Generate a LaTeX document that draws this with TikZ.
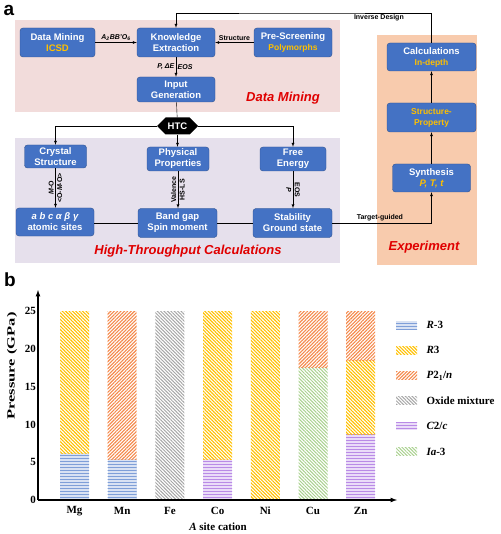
\documentclass[tikz,border=0pt]{standalone}
\usepackage{fontspec}
\setmainfont{Liberation Sans}
\newfontfamily\chartfont{Liberation Serif}
\usetikzlibrary{arrows,shapes.symbols,patterns,patterns.meta}

\definecolor{boxblue}{HTML}{4472C4}
\definecolor{boxline}{HTML}{2F528F}
\definecolor{gold}{HTML}{FFC000}
\definecolor{areared}{HTML}{E00000}
\definecolor{dmpink}{HTML}{F2DCDB}
\definecolor{htclav}{HTML}{E6E0EC}
\definecolor{exppeach}{HTML}{F8CBAD}
\definecolor{cRm}{HTML}{7F9FD8}
\definecolor{cR}{HTML}{FFC000}
\definecolor{cP}{HTML}{F4894B}
\definecolor{cOx}{HTML}{A6A6A6}
\definecolor{cC}{HTML}{B98BE6}
\definecolor{cIa}{HTML}{A9D18E}

\newcommand{\sublabel}[1]{{\color{gold}#1}}

\begin{document}
\begin{tikzpicture}[
x=1pt, y=-1pt,
box/.style={
  draw=boxline,
  fill=boxblue,
  rounded corners=3pt,
  text=white,
  align=center,
  inner sep=1pt,
  font=\bfseries\fontsize{9.5}{11}\selectfont
  },
tag/.style={
  font=\bfseries\fontsize{7}{8}\selectfont,
  inner sep=1.5pt
  },
area/.style={
  text=areared,
  font=\bfseries\itshape\fontsize{13}{15}\selectfont
  },
panel/.style={
  font=\bfseries\fontsize{19}{21}\selectfont,
  inner sep=0pt
  },
chart/.style={
  font=\chartfont\bfseries\fontsize{11}{13}\selectfont
  },
phRm/.style={preaction={fill=cRm!30}, pattern=horizontal lines, pattern color=cRm},
phR/.style={pattern={Lines[angle=-45,distance=2.4pt,line width=1.1pt]}, pattern color=cR},
phP/.style={pattern={Lines[angle=45,distance=2.4pt,line width=1.1pt]}, pattern color=cP},
phOx/.style={pattern={Lines[angle=-45,distance=2.4pt,line width=1pt]}, pattern color=cOx},
phC/.style={preaction={fill=cC!30}, pattern=horizontal lines, pattern color=cC},
phIa/.style={pattern={Lines[angle=-45,distance=2.4pt,line width=1pt]}, pattern color=cIa},
>=latex
]
\useasboundingbox (0,0) rectangle (500,534);

% backgrounds
\fill[dmpink] (15,20) rectangle (340,112);
\fill[htclav] (15,138) rectangle (340,263);
\fill[exppeach] (377,35) rectangle (477,265);

\node[panel] (pa) at (9,10) {a};
\node[panel] (pb) at (10,280) {b};

\node[area] (dmarea) at (283,98) {Data Mining};
\node[area] (htcarea) at (188,251) {High-Throughput Calculations};
\node[area] (exparea) at (424,247) {Experiment};

% boxes
\node[box, minimum width=75, minimum height=29] (dm) at (57.5,42.5) {Data Mining\\\sublabel{ICSD}};
\node[box, minimum width=78, minimum height=29] (ke) at (176,42.5) {Knowledge\\Extraction};
\node[box, minimum width=78, minimum height=29] (ps) at (293,42.5) {Pre-Screening\\\sublabel{\fontsize{8.5}{10}\selectfont Polymorphs}};
\node[box, minimum width=78, minimum height=25] (ig) at (176,89.5) {Input\\Generation};
\node[signal, signal to=west and east, fill=black, text=white, inner sep=0pt,
  minimum width=41, minimum height=17, font=\bfseries\fontsize{9.5}{11}\selectfont] (htc) at (177.5,126) {HTC};
\node[box, minimum width=62, minimum height=23] (cs) at (55.5,156.5) {Crystal\\Structure};
\node[box, minimum width=62, minimum height=24] (pp) at (178,159) {Physical\\Properties};
\node[box, minimum width=66, minimum height=24] (fe) at (293,159) {Free\\Energy};
\node[box, minimum width=78, minimum height=28] (abc) at (55,222) {\itshape a b c α β γ\\atomic sites};
\node[box, minimum width=79, minimum height=29] (bg) at (177.5,223) {Band gap\\Spin moment};
\node[box, minimum width=79, minimum height=29] (st) at (292.5,223) {Stability\\Ground state};
\node[box, minimum width=89, minimum height=28] (calc) at (431.5,57) {Calculations\\\sublabel{\fontsize{8.5}{10}\selectfont In-depth}};
\node[box, minimum width=89, minimum height=29] (sp) at (431.5,117.5) {\sublabel{\fontsize{8.5}{10}\selectfont Structure-}\\\sublabel{\fontsize{8.5}{10}\selectfont Property}};
\node[box, minimum width=78, minimum height=28] (syn) at (431.5,178) {Synthesis\\\sublabel{\itshape P, T, t}};

% data mining lines
\draw[->] (dm) -- node[tag, above] {\itshape A\textsubscript{2}BB'O\textsubscript{6}} (ke);
\draw[->] (ps) -- node[tag, above] {Structure} (ke);
\draw[->] (ke) -- node[tag, left] {\itshape P, ΔE} node[tag, right] {\itshape EOS} (ig);
\draw (ig) -- (htc);

% HTC lines
\draw[->] (htc.west) -| (cs);
\draw[->] (htc.south) -- (htc.south |- pp.north);
\draw[->] (htc.east) -| (fe);
\draw[->] (cs) -- node[tag, rotate=90, above] {\itshape M\upshape-O} node[tag, rotate=90, below] {<O-\textit{M}-O>} (cs |- abc.north);
\draw[->] (pp) -- node[tag, rotate=90, above] {Valence} node[tag, rotate=90, below] {HS-LS} (pp |- bg.north);
\draw[->] (fe) -- node[tag, rotate=-90, below] {\itshape P} node[tag, rotate=-90, above] {EOS} (fe |- st.north);
\draw (abc.east |- bg) -- (bg);
\draw (bg) -- (st);

% experiment lines
\coordinate (loop) at (300,13);
\draw[->] (st) -| node[tag, above, pos=0.24] {Target-guided} (syn);
\draw[->] (syn) -- (sp);
\draw[->] (sp) -- (calc);
\draw[->] (calc.north) |- node[tag, below, pos=0.7] {Inverse Design} (loop) -| (ke.north);

% bar chart
\foreach \i/\lo/\hi/\ph in {0/0/6.2/phRm, 0/6.2/25/phR, 1/0/5.4/phRm, 1/5.4/25/phP,
  2/0/25/phOx, 3/0/5.4/phC, 3/5.4/25/phR, 4/0/25/phR, 5/0/17.5/phIa, 5/17.5/25/phP,
  6/0/8.7/phC, 6/8.7/18.5/phR, 6/18.5/25/phP}
  \path[\ph] ({74.5+47.7*\i-14.5},{500-7.56*\lo}) rectangle ({74.5+47.7*\i+14.5},{500-7.56*\hi});

\draw[->, line width=1.2pt] (38,500) -- (38,290);
\draw[->, line width=1.2pt] (38,500) -- (397,500);

\foreach \v in {0,5,...,25}
  \node[chart, anchor=east, inner sep=0pt] (tick\v) at (36,{500-7.56*\v}) {\v};

\foreach \name [count=\i from 0] in {Mg,Mn,Fe,Co,Ni,Cu,Zn}
  \node[chart] (cat\i) at ({74.5+47.7*\i},511) {\name};

\node[chart, rotate=90] (ylab) at (12,366) {\scalebox{1.5}[1]{Pressure (GPa)}};
\node[chart] (xlab) at (218,527) {\textit{A} site cation};

% legend
\foreach \ph/\txt [count=\k from 0] in {phRm/{\textit{R}-3}, phR/{\textit{R}3},
  phP/{\textit{P}2\textsubscript{1}/\textit{n}}, phOx/{Oxide mixture},
  phC/{\textit{C}2/\textit{c}}, phIa/{\textit{Ia}-3}}
{
  \path[\ph] (396,{321+25.3*\k}) rectangle (417,{329+25.3*\k});
  \node[chart, anchor=west] (leg\k) at (423,{325+25.3*\k}) {\txt};
}
\end{tikzpicture}
\end{document}
